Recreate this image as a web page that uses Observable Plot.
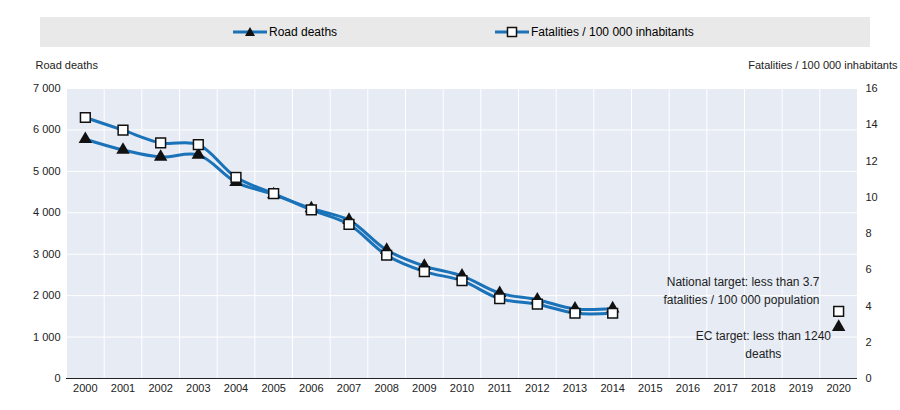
<!DOCTYPE html>
<html><head><meta charset="utf-8">
<script src="https://cdn.jsdelivr.net/npm/d3@7"></script>
<script src="https://cdn.jsdelivr.net/npm/@observablehq/plot@0.6"></script>
<style>
body{margin:0;background:#fff;font-family:"Liberation Sans",Arial,sans-serif;}
#legend{position:absolute;left:40px;top:17px;width:830px;height:30px;background:#e9e9e9;font-size:12px;}
.li{position:absolute;top:8px;display:flex;align-items:center;gap:2px;}
#chart{position:absolute;left:0;top:55px;}
</style></head><body>
<div id="legend">
<div class="li" style="left:193px"><svg width="34" height="12"><line x1="0" y1="6" x2="34" y2="6" stroke="#1a72b8" stroke-width="3"/><path d="M17,1 L22,10 L12,10Z" fill="#111"/></svg>Road deaths</div>
<div class="li" style="left:455px"><svg width="34" height="12"><line x1="0" y1="6" x2="34" y2="6" stroke="#1a72b8" stroke-width="3"/><rect x="12.5" y="1.5" width="9" height="9" fill="#fff" stroke="#111" stroke-width="1.5"/></svg>Fatalities / 100 000 inhabitants</div>
</div>
<div id="chart"></div>
<script>
const years = [2000,2001,2002,2003,2004,2005,2006,2007,2008,2009,2010,2011,2012,2013,2014];
const deaths = [5776,5517,5347,5399,4741,4442,4104,3823,3100,2714,2478,2060,1903,1680,1688];
const rates = [14.4,13.7,13.0,12.9,11.1,10.2,9.3,8.5,6.8,5.9,5.4,4.4,4.1,3.6,3.6];
const targetYear = 2020, ecTarget = 1240, natTarget = 3.7;
const allYears = d3.range(2000, 2021);
const leftTicks = [0,1000,2000,3000,4000,5000,6000,7000];
const rightTicks = [0,2,4,6,8,10,12,14,16];
const k = 7000/16;
const fmtSp = d => d3.format(",")(d).replace(",", " ");
const D = years.map((y,i)=>({year:y, deaths:deaths[i], rate:rates[i]*k}));
const blue = "#1a72b8";
const chart = Plot.plot({
  width: 900, height: 355,
  marginLeft: 66, marginRight: 43, marginTop: 33, marginBottom: 32,
  style: {fontFamily: "Liberation Sans, Arial, sans-serif", fontSize: "11px", color: "#222"},
  x: {domain: [1999.5, 2020.5]},
  y: {domain: [0, 7000]},
  marks: [
    Plot.frame({fill: "#e6ebf4", stroke: null}),
    Plot.ruleX(d3.range(1999.5, 2021, 1), {stroke: "#fff", strokeWidth: 1}),
    Plot.ruleY(leftTicks.slice(1), {stroke: "#fff", strokeWidth: 1}),
    Plot.ruleY([0], {stroke: "#222"}),
    Plot.axisX({ticks: allYears, tickFormat: d => String(d), tickSize: 0, tickPadding: 6, label: null}),
    Plot.axisY({ticks: leftTicks, tickFormat: fmtSp, tickSize: 0, tickPadding: 6, label: null}),
    Plot.axisY({anchor: "right", ticks: rightTicks.map(v=>v*k), tickFormat: d => String(Math.round(d/k)), tickSize: 0, tickPadding: 8, label: null}),
    Plot.line(D, {x: "year", y: "deaths", stroke: blue, strokeWidth: 3, curve: "catmull-rom"}),
    Plot.line(D, {x: "year", y: "rate", stroke: blue, strokeWidth: 3, curve: "catmull-rom"}),
    Plot.dot(D, {x: "year", y: "deaths", symbol: "triangle", r: 5, fill: "#111", stroke: "none"}),
    Plot.dot(D, {x: "year", y: "rate", symbol: "square", r: 5.5, fill: "#fff", stroke: "#111", strokeWidth: 1.5}),
    Plot.dot([{year: targetYear, v: ecTarget}], {x: "year", y: "v", symbol: "triangle", r: 5, fill: "#111"}),
    Plot.dot([{year: targetYear, v: natTarget*k}], {x: "year", y: "v", symbol: "square", r: 5.5, fill: "#fff", stroke: "#111", strokeWidth: 1.5}),
    Plot.text(["National target: less than 3.7\nfatalities / 100 000 population"], {x: 2020.5, y: 2150, dx: -38, textAnchor: "end", lineHeight: 1.45, fontSize: 12}),
    Plot.text(["EC target: less than 1240\ndeaths"], {x: 2018.0, y: 850, lineHeight: 1.45, fontSize: 12}),
    Plot.text(["Road deaths"], {x: 1999.5, y: 7000, dx: -31, dy: -23, textAnchor: "start", fontSize: 11}),
    Plot.text(["Fatalities / 100 000 inhabitants"], {x: 2020.5, y: 7000, dx: 40, dy: -23, textAnchor: "end", fontSize: 11})
  ]
});
document.getElementById("chart").appendChild(chart);
</script>
</body></html>
